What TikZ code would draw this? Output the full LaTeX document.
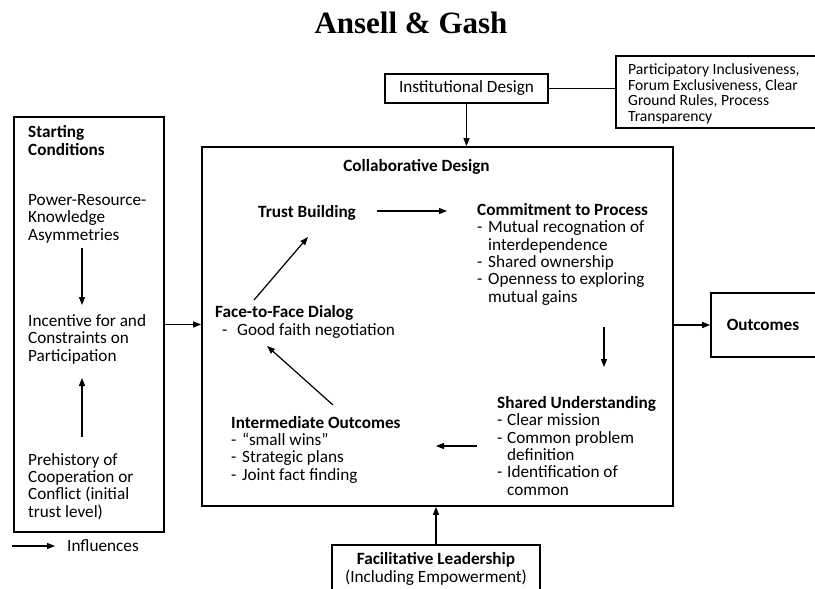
\documentclass[tikz,border=0pt]{standalone}
\usepackage{fontspec}
\setmainfont{Carlito}
\newfontfamily\titlefont{Liberation Serif}
\usetikzlibrary{arrows.meta}
\lineskiplimit=-20pt
\begin{document}
\begin{tikzpicture}[x=1pt,y=-1pt,
  box/.style={draw, line width=1.8pt, inner sep=0pt},
  arr/.style={-{Triangle[length=8pt,width=6pt]}, line width=1.2pt},
  plainline/.style={line width=1.2pt},
  txt/.style={anchor=base west, align=left, inner sep=0pt, font=\fontsize{17.2}{17.3}\selectfont},
  ctxt/.style={anchor=base, align=center, inner sep=0pt, font=\fontsize{17.2}{18}\selectfont},
  small/.style={anchor=base west, align=left, inner sep=0pt, font=\fontsize{15.6}{15.7}\selectfont}]
\useasboundingbox (0,0) rectangle (815,589);
\clip (0,0) rectangle (815,589);
\fill[white] (0,0) rectangle (815,589);

% title
\node[anchor=base, inner sep=0pt, font=\titlefont\fontsize{31}{36}\selectfont\bfseries] (title) at (411,33) {Ansell \& Gash};

% boxes
\node[box, line width=2.3pt, minimum width=150pt, minimum height=415pt] (start) at (89,324.5) {};
\node[box, minimum width=471pt, minimum height=359pt] (collab) at (437.5,326.5) {};
\node[box, minimum width=163pt, minimum height=29pt, inner sep=0pt, font=\fontsize{17.2}{18}\selectfont] (inst) at (466.5,88.5) {Institutional Design};
\node[box, minimum width=214pt, minimum height=72pt] (part) at (723,92) {};
\node[box, minimum width=119pt, minimum height=64pt] (outbox) at (770.5,325) {};
\node[box, minimum width=208pt, minimum height=70pt] (facbox) at (436,580) {};

% participatory text (base = last line)
\node[small] (parttxt) at (628,121.5) {Participatory Inclusiveness,\\Forum Exclusiveness, Clear\\Ground Rules, Process\\Transparency};

% starting conditions texts
\node[txt] (sc) at (28,155) {\bfseries Starting\\\bfseries Conditions};
\node[txt] (power) at (28,240) {Power-Resource-\\Knowledge\\Asymmetries};
\node[txt] (incent) at (28,361) {Incentive for and\\Constraints on\\Participation};
\node[txt] (prehist) at (28,517) {Prehistory of\\Cooperation or\\Conflict (initial\\trust level)};

% legend
\node[txt] (infl) at (67,551) {Influences};

% collaborative design texts
\node[ctxt] (cd) at (416.5,171) {\bfseries Collaborative Design};
\node[txt] (trust) at (258,217) {\bfseries Trust Building};
\node[txt] (commit) at (477,302) {\bfseries Commitment to Process\\
\makebox[11pt][l]{-}Mutual recognation of\\
\hspace*{11pt}interdependence\\
\makebox[11pt][l]{-}Shared ownership\\
\makebox[11pt][l]{-}Openness to exploring\\
\hspace*{11pt}mutual gains};
\node[txt] (face) at (215,335) {\bfseries Face-to-Face Dialog\\
\hspace*{7pt}\makebox[15pt][l]{-}Good faith negotiation};
\node[txt] (shared) at (497,495) {\bfseries Shared Understanding\\
\makebox[10pt][l]{-}Clear mission\\
\makebox[10pt][l]{-}Common problem\\
\hspace*{10pt}definition\\
\makebox[10pt][l]{-}Identification of\\
\hspace*{10pt}common};
\node[txt] (inter) at (231,480) {\bfseries Intermediate Outcomes\\
\makebox[11pt][l]{-}“small wins”\\
\makebox[11pt][l]{-}Strategic plans\\
\makebox[11pt][l]{-}Joint fact finding};

% outcomes and facilitative texts
\node[ctxt] (outtxt) at (763,330) {\bfseries Outcomes};
\node[ctxt] (factxt) at (436,582) {\bfseries Facilitative Leadership\\(Including Empowerment)};

% connectors outside
\draw[arr] (start.east) -- (start.east -| collab.west);
\draw[arr] (collab.east |- outbox.west) -- (outbox.west);
\draw[arr] (inst.south) -- (inst.south |- collab.north);
\draw[arr] (facbox.north) -- (facbox.north |- collab.south);
\draw[plainline] (inst.east) -- (inst.east -| part.west);
\draw[arr] ([xshift=-55pt,yshift=5pt]infl.base west) -- ([xshift=-12pt,yshift=5pt]infl.base west);

% connectors in starting conditions
\draw[arr] ([xshift=54pt,yshift=-8pt]power.base west) -- ([xshift=54pt,yshift=56pt]incent.base west);
\draw[arr] ([xshift=54pt,yshift=80pt]prehist.base west) -- ([xshift=54pt,yshift=-17pt]incent.base west);

% connectors in collaborative design
\draw[arr] ([xshift=119pt,yshift=6pt]trust.base west) -- ([xshift=-30pt,yshift=91pt]commit.base west);
\draw[arr] ([xshift=39pt,yshift=35pt]face.base west) -- ([xshift=50pt,yshift=-20pt]trust.base west);
\draw[arr] ([xshift=127pt,yshift=-25pt]commit.base west) -- ([xshift=107pt,yshift=128pt]shared.base west);
\draw[arr] ([xshift=-20pt,yshift=49pt]shared.base west) -- ([xshift=205pt,yshift=34pt]inter.base west);
\draw[arr] ([xshift=102pt,yshift=75pt]inter.base west) -- ([xshift=52pt,yshift=-11pt]face.base west);
\end{tikzpicture}
\end{document}
